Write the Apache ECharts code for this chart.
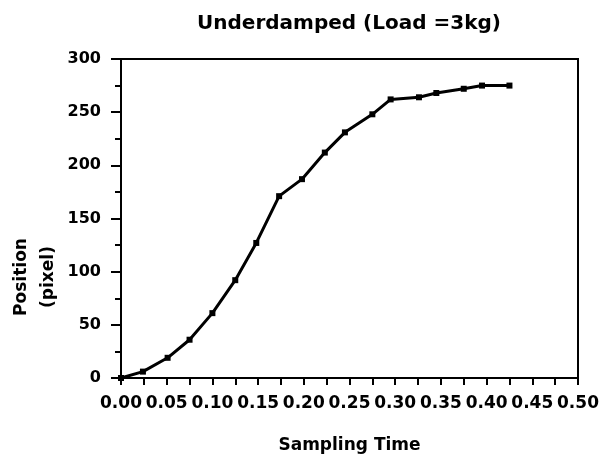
<!DOCTYPE html>
<html>
<head>
<meta charset="utf-8">
<script src="https://cdn.jsdelivr.net/npm/echarts@6/dist/echarts.min.js"></script>
<style>
  html, body { margin: 0; padding: 0; background: #fff; }
  #main { width: 606px; height: 462px; }
</style>
</head>
<body>
<div id="main"></div>
<script>
// 采样时间 (s) 与位置 (pixel)
const sampleTime = [0, 0.024, 0.051, 0.075, 0.1, 0.125, 0.148, 0.173, 0.198, 0.223, 0.245, 0.275, 0.295, 0.326, 0.345, 0.375, 0.395, 0.425]
const position = [0, 6, 19, 36, 61, 92, 127, 171, 187, 212, 231, 248, 262, 264, 268, 272, 275, 275]

const titleText = "Underdamped (Load =3kg)"
const xName = "Sampling Time"
const yName = "Position\n(pixel)"

const font = "DejaVu Sans"

const myChart = echarts.init(document.getElementById("main"))

const option = {
  backgroundColor: "#fff",
  animation: false,
  title: {
    text: titleText,
    left: 344,
    top: 9,
    textAlign: "center",
    textStyle: { fontFamily: font, fontWeight: "bold", fontSize: 20, color: "#000" }
  },
  grid: {
    left: 121,
    top: 59,
    width: 457,
    height: 319,
    show: true,
    borderColor: "#000",
    borderWidth: 2,
    backgroundColor: "transparent"
  },
  graphic: [
    {
      type: "text",
      x: 35,
      y: 277,
      rotation: Math.PI / 2,
      style: {
        text: yName,
        fontFamily: font,
        fontWeight: "bold",
        fontSize: 17,
        lineHeight: 27,
        fill: "#000",
        align: "center",
        verticalAlign: "middle"
      }
    }
  ],
  xAxis: {
    type: "value",
    min: 0,
    max: 0.5,
    interval: 0.05,
    name: xName,
    nameLocation: "middle",
    nameGap: 59,
    nameTextStyle: { fontFamily: font, fontWeight: "bold", fontSize: 17, color: "#000" },
    axisLine: { show: true, onZero: false, lineStyle: { color: "#000", width: 2 } },
    axisTick: { show: true, length: 7, lineStyle: { color: "#000", width: 2 } },
    minorTick: { show: true, splitNumber: 2, length: 7, lineStyle: { color: "#000", width: 2 } },
    splitLine: { show: false },
    axisLabel: {
      margin: 17,
      fontFamily: font,
      fontWeight: "bold",
      fontSize: 17,
      color: "#000",
      formatter: (v) => v.toFixed(2)
    }
  },
  yAxis: {
    type: "value",
    min: 0,
    max: 300,
    interval: 50,
    axisLine: { show: true, onZero: false, lineStyle: { color: "#000", width: 2 } },
    axisTick: { show: true, length: 10, lineStyle: { color: "#000", width: 2 } },
    minorTick: { show: true, splitNumber: 2, length: 6, lineStyle: { color: "#000", width: 2 } },
    splitLine: { show: false },
    axisLabel: {
      margin: 20,
      fontFamily: font,
      fontWeight: "bold",
      fontSize: 16,
      color: "#000"
    }
  },
  series: [
    {
      type: "line",
      data: sampleTime.map((t, i) => [t, position[i]]),
      symbol: "rect",
      symbolSize: 6,
      showAllSymbol: true,
      lineStyle: { color: "#000", width: 3 },
      itemStyle: { color: "#000" }
    }
  ]
}

myChart.setOption(option)
</script>
</body>
</html>
